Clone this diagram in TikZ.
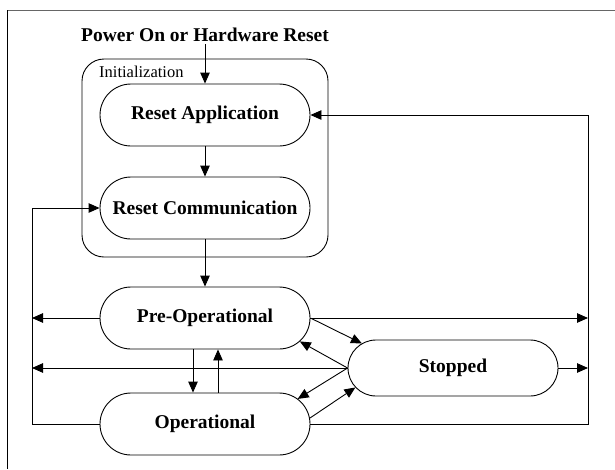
\documentclass[tikz,border=0pt]{standalone}
\usepackage{fontspec}
\setmainfont{Liberation Serif}
\usetikzlibrary{arrows.meta,calc}
\begin{document}
\begin{tikzpicture}[x=1pt,y=-1pt,
  state/.style={draw, line width=0.9pt, rounded corners=31pt, minimum width=210pt, minimum height=62pt, inner sep=0pt, font=\fontsize{19.5}{22}\selectfont\bfseries},
  arr/.style={line width=0.9pt, -{Triangle[length=11pt,width=9.5pt]}},
  frameline/.style={line width=1pt},
]
\useasboundingbox (0,0) rectangle (615,469);
% frame
\draw[frameline, black!60] (7,10) -- (615,10);
\draw[frameline] (7,10) -- (7,469);

\coordinate (lx) at (32,0);
\coordinate (rx) at (588,0);

\node[inner sep=2pt, font=\fontsize{19.5}{22}\selectfont\bfseries] (title) at (205,35) {Power On or Hardware Reset};
\node[draw, line width=0.9pt, rounded corners=22pt, minimum width=246pt, minimum height=198pt] (init) at (205,158) {};
\node[anchor=west, inner sep=0pt, font=\fontsize{16.5}{18}\selectfont] (initlbl) at (99,72) {Initialization};

\node[state] (ra) at (205,115) {Reset Application};
\node[state] (rc) at (205,208) {Reset Communication};
\node[state] (po) at (205,318) {Pre-Operational};
\node[state] (op) at (205,424) {Operational};
\node[state, minimum height=56pt, rounded corners=28pt] (st) at (453,368) {Stopped};

\coordinate (poArc) at ($(po.east)+(-31,0)+(49:31)$);
\coordinate (opArc1) at ($(op.east)+(-31,0)+(-54:31)$);
\coordinate (opArc2) at ($(op.east)+(-31,0)+(-11:31)$);
\coordinate (stArc1) at ($(st.west)+(28,0)+(-119:28)$);
\coordinate (stArc2) at ($(st.west)+(28,0)+(136:28)$);

\draw[arr] (title.south) -- (ra.north);
\draw[arr] (ra) -- (rc);
\draw[arr] (rc) -- (po);
\draw[arr] (op.west) -- (op.west -| lx) |- (rc.west);
\draw[arr] (op.east) -- (op.east -| rx) |- (ra.east);
\draw[arr] (po.west) -- (po.west -| lx);
\draw[arr] (po.east) -- (po.east -| rx);
\draw[arr] (st.west) -- (st.west -| lx);
\draw[arr] (st.east) -- (st.east -| rx);
\draw[arr] ([xshift=-12pt]po.south) -- ([xshift=-12pt]op.north);
\draw[arr] ([xshift=13pt]op.north) -- ([xshift=13pt]po.south);
\draw[arr] (po.east) -- (stArc1);
\draw[arr] (st.west) -- (poArc);
\draw[arr] (st.west) -- (opArc1);
\draw[arr] (opArc2) -- (stArc2);
\end{tikzpicture}
\end{document}
